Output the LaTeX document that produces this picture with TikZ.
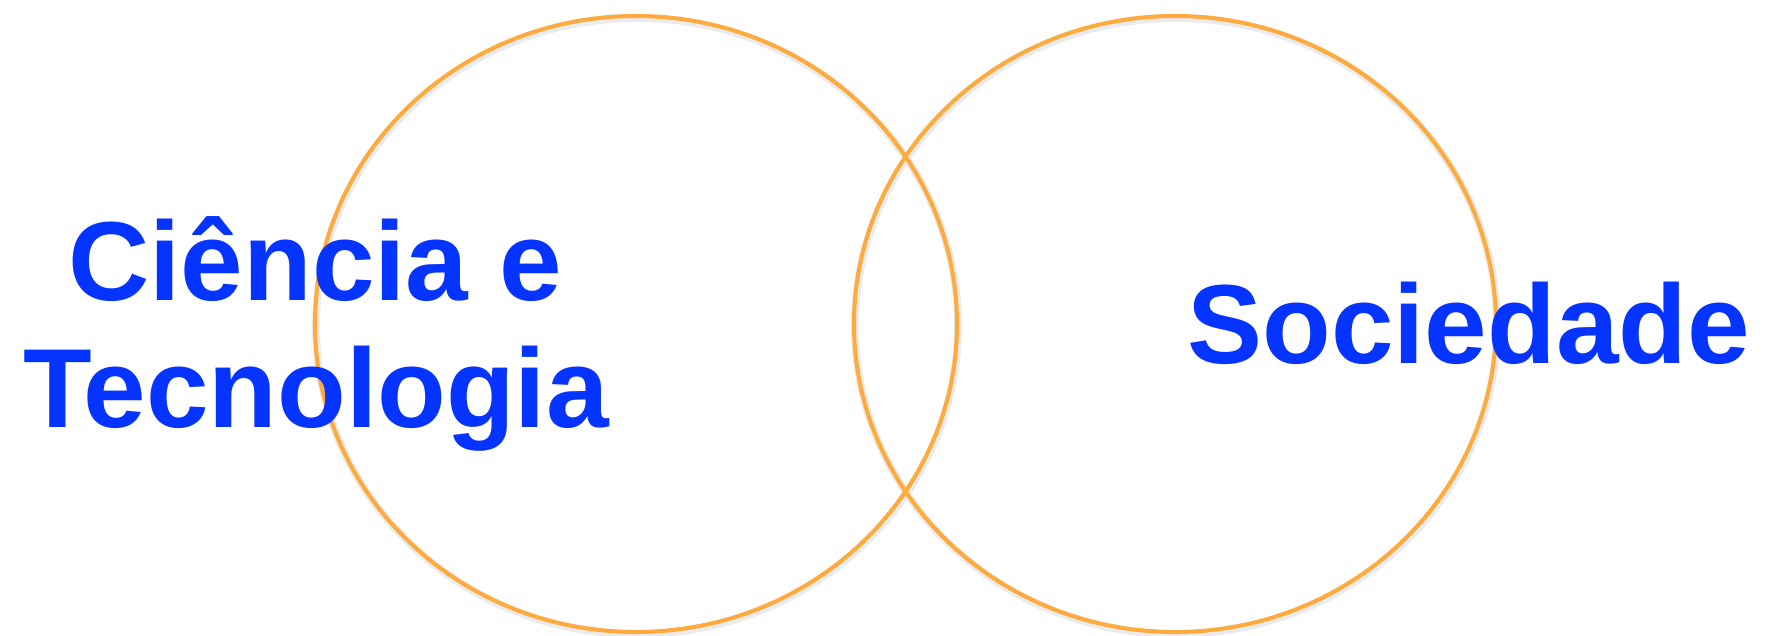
\documentclass[tikz,border=0pt]{standalone}
\usepackage{fontspec}
\setmainfont{Liberation Sans}
\usetikzlibrary{positioning}
\definecolor{vennorange}{RGB}{255,170,60}
\definecolor{labelblue}{RGB}{5,51,255}
\tikzset{
  ring/.style={draw=vennorange, line width=2.3pt},
  ringshadow/.style={draw=black!8, line width=4.5pt},
  bigword/.style={text=labelblue, font=\fontsize{64}{72}\selectfont\bfseries, inner sep=0pt},
}
\begin{document}
\begin{tikzpicture}[x=0.02cm, y=-0.02cm]
  \useasboundingbox (0,0) rectangle (1766,636);
  % rings (shadow first, then the orange line)
  \coordinate (lc) at (636,324);
  \coordinate (rc) at (1175,324);
  \draw[ringshadow] ([shift={(1,2)}]lc) ellipse[x radius=321, y radius=308];
  \draw[ringshadow] ([shift={(1,2)}]rc) ellipse[x radius=321, y radius=308];
  \draw[ring] (lc) ellipse[x radius=321, y radius=308];
  \draw[ring] (rc) ellipse[x radius=321, y radius=308];
  % labels
  \node[bigword, anchor=base west] (cien) at (68,300) {Ciência e};
  \node[bigword, anchor=base west] (tecn) at (23,427) {Tecnologia};
  \node[bigword, anchor=base west] (soc) at (1187,363) {Sociedade};
\end{tikzpicture}
\end{document}
